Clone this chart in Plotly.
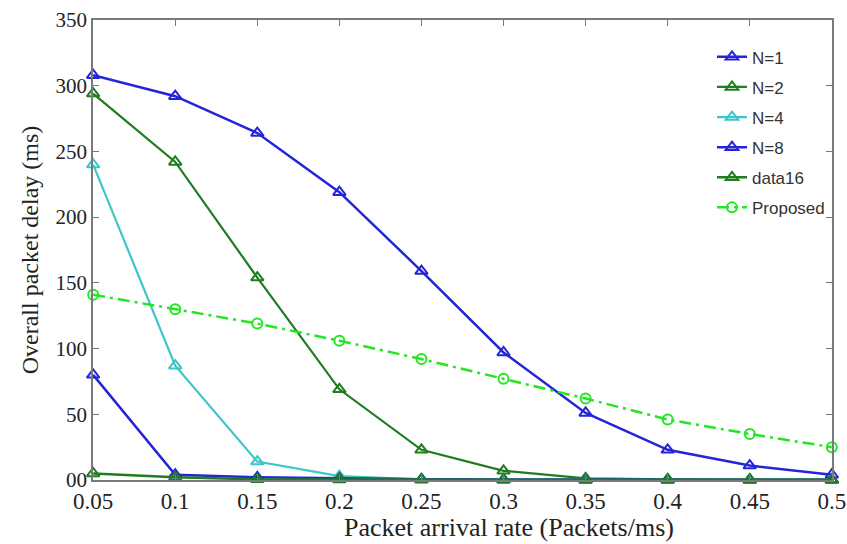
import plotly.graph_objects as go

x_rate = [0.05, 0.10, 0.15, 0.20, 0.25, 0.30, 0.35, 0.40, 0.45, 0.50]

n1 = [308, 292, 264, 219, 159, 97, 51, 23, 11, 4]
n2 = [294, 242, 154, 69, 23, 7, 1.3, 0.5, 0.3, 0.2]
n4 = [240, 87, 14, 3, 0.5, 0.2, 0.1, 0.1, 0.1, 0.1]
n8 = [80, 4, 2, 1, 0.5, 0.3, 0.2, 0.1, 0.1, 0.1]
data16 = [5, 2, 0.5, 0.3, 0.2, 0.1, 0.1, 0.1, 0.1, 0.1]
proposed = [141, 130, 119, 106, 92, 77, 62, 46, 35, 25]

series_names = ["N=1", "N=2", "N=4", "N=8", "data16", "Proposed"]

y_tickvals = [0, 50, 100, 150, 200, 250, 300, 350]
y_ticktext = ["00", "50", "100", "150", "200", "250", "300", "350"]
x_tickvals = [0.05, 0.1, 0.15, 0.2, 0.25, 0.3, 0.35, 0.4, 0.45, 0.5]
x_ticktext = ["0.05", "0.1", "0.15", "0.2", "0.25", "0.3", "0.35", "0.4", "0.45", "0.5"]

BLUE = "#2424d8"
DGREEN = "#1f7d1f"
CYAN = "#3cc6c6"
LGREEN = "#22e622"

styles = [
    dict(color=BLUE, width=2.5, dash="solid", symbol="triangle-up-open"),
    dict(color=DGREEN, width=2.2, dash="solid", symbol="triangle-up-open"),
    dict(color=CYAN, width=2.2, dash="solid", symbol="triangle-up-open"),
    dict(color=BLUE, width=2.5, dash="solid", symbol="triangle-up-open"),
    dict(color=DGREEN, width=2.5, dash="solid", symbol="triangle-up-open"),
    dict(color=LGREEN, width=2.5, dash="12px,5px,3px,5px", symbol="circle-open"),
]

fig = go.Figure()
for name, ys, st in zip(series_names, [n1, n2, n4, n8, data16, proposed], styles):
    fig.add_trace(go.Scatter(
        x=x_rate, y=ys, name=name, mode="lines+markers",
        legendgroup=name,
        line=dict(color=st["color"], width=st["width"], dash=st["dash"]),
        marker=dict(symbol=st["symbol"], size=11 if st["symbol"] != "circle-open" else 10,
                    color=st["color"], line=dict(width=2, color=st["color"])),
        cliponaxis=False,
    ))

axis_color = "#7a7a7a"
serif = "Liberation Serif, Times New Roman, serif"

fig.update_layout(
    width=847, height=544,
    margin=dict(l=93, r=15, t=20, b=64),
    plot_bgcolor="white", paper_bgcolor="white",
    showlegend=True,
    legend=dict(
        x=0.8376, y=0.958, xanchor="left", yanchor="top",
        bgcolor="rgba(255,255,255,0)", borderwidth=0,
        font=dict(family="Liberation Sans Narrow, Arial Narrow, Liberation Sans, Arial, sans-serif",
                  size=17, color="#333333"),
        traceorder="grouped", tracegroupgap=5,
    ),
    xaxis=dict(
        range=[0.0499, 0.5001], tickvals=x_tickvals, ticktext=x_ticktext,
        showgrid=False, zeroline=False,
        showline=True, linecolor=axis_color, linewidth=1.5, mirror="ticks",
        ticks="inside", ticklen=6, tickcolor=axis_color, tickwidth=1.2,
        tickfont=dict(family=serif, size=23, color="#222222"),
        ticklabeloverflow="allow", automargin=False,
    ),
    yaxis=dict(
        range=[0, 350], tickvals=y_tickvals, ticktext=y_ticktext,
        showgrid=False, zeroline=False,
        showline=True, linecolor=axis_color, linewidth=1.5, mirror="ticks",
        ticks="inside", ticklen=6, tickcolor=axis_color, tickwidth=1.2,
        tickfont=dict(family=serif, size=21, color="#222222"),
        automargin=False,
        title=dict(text="Overall packet delay (ms)", font=dict(family=serif, size=24, color="#222222"),
                   standoff=10),
    ),
    annotations=[dict(
        text="Packet arrival rate (Packets/ms)", xref="paper", yref="paper",
        x=0.563, y=-0.104, xanchor="center", yanchor="middle", showarrow=False,
        font=dict(family=serif, size=26, color="#222222"),
    )],
)

fig.write_html("out.html")
